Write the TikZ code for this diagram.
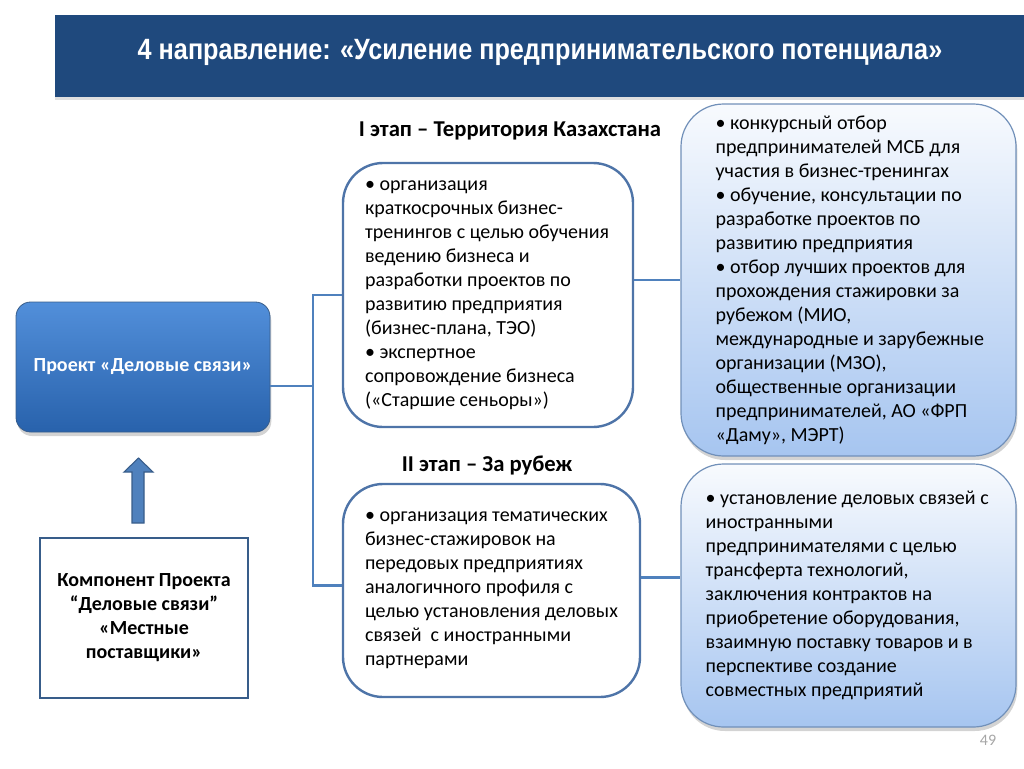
\documentclass[tikz,border=0pt]{standalone}
\usepackage{fontspec}
\setmainfont{Carlito}
\newfontfamily\headfont[FakeStretch=0.86]{Liberation Sans}
\usetikzlibrary{calc,shadows}
\definecolor{barblue}{RGB}{31,73,125}
\definecolor{linkblue}{RGB}{79,129,189}
\definecolor{rimblue}{RGB}{78,116,168}
\definecolor{paleblue}{RGB}{166,197,240}
\definecolor{darkrim}{RGB}{56,93,138}
\definecolor{projtop}{RGB}{82,143,218}
\definecolor{projbot}{RGB}{40,98,172}
\newcommand{\bodyfont}{\fontsize{15}{18}\selectfont}

\begin{document}
\begin{tikzpicture}[x=0.75pt,y=-0.75pt,
	stagebox/.style={draw=rimblue,line width=1.8pt,fill=white,rounded corners=30pt},
	infobox/.style={draw=rimblue!80,line width=0.9pt,rounded corners=32pt,
		top color=white!92!paleblue,bottom color=paleblue,
		drop shadow={opacity=0.35,shadow xshift=1pt,shadow yshift=-3pt}},
	txt/.style={anchor=west,inner sep=0pt,align=left,font=\bodyfont},
	stagelabel/.style={font=\fontsize{17}{20}\selectfont\bfseries},
	link/.style={draw=linkblue,line width=2.2pt}]
	\useasboundingbox (0,0) rectangle (1024,768);
	
	\node[fill=barblue,minimum width=726.75pt,minimum height=61.5pt,inner sep=0pt,
		drop shadow={opacity=0.25,shadow xshift=0pt,shadow yshift=-2pt}] (title) at (539.5,56) {};
	\node[text=white,font=\headfont\fontsize{22}{26}\selectfont\bfseries] (head) at (540,52)
		{4 направление: «Усиление предпринимательского потенциала»};
	
	\node[rounded corners=11pt,draw=darkrim,line width=0.6pt,top color=projtop,bottom color=projbot,
		drop shadow={opacity=0.35,shadow xshift=1pt,shadow yshift=-3pt},
		minimum width=190.5pt,minimum height=97.5pt,text=white,font=\bodyfont\bfseries] (proj) at (143,367)
		{Проект «Деловые связи»};
	\node[draw=darkrim,line width=1.5pt,fill=white,minimum width=156pt,minimum height=120pt,
		align=center,font=\bodyfont\bfseries] (comp) at (144,618)
		{Компонент Проекта\\“Деловые связи”\\«Местные\\поставщики»};
	% block arrow from comp up to proj
	\draw[draw=darkrim,fill=linkblue,line width=0.8pt,line join=miter]
		($(comp.north)+(-12,-14)$) -- ++(0,-51) -- ++(-8,0) -- ++(14.5,-14) -- ++(14.5,14)
		-- ++(-9,0) -- ++(0,51) -- cycle;
	
	\node[stagelabel] (lab1) at (510,131) {I этап – Территория Казахстана};
	\node[stagebox,minimum width=217.5pt,minimum height=198pt] (s1) at (488,295) {};
	\node[txt] (t1) at ([xshift=17.25pt]s1.west)
		{• организация\\краткосрочных бизнес-\\тренингов с целью обучения\\ведению бизнеса и\\разработки проектов по\\развитию предприятия\\(бизнес-плана, ТЭО)\\• экспертное\\сопровождение бизнеса\\(«Старшие сеньоры»)};
	
	\node[stagelabel] (lab2) at (487,465) {II этап – За рубеж};
	\node[stagebox,minimum width=222.75pt,minimum height=159.75pt] (s2) at (491.5,590.5) {};
	\node[txt] (t2) at ([xshift=17.25pt]s2.west)
		{• организация тематических\\бизнес-стажировок на\\передовых предприятиях\\аналогичного профиля с\\целью установления деловых\\связей~ с иностранными\\партнерами};
	
	\node[infobox,minimum width=251.25pt,minimum height=264pt] (s3) at (848.5,280) {};
	\node[txt] (t3) at ([xshift=26.25pt]s3.west)
		{• конкурсный отбор\\предпринимателей МСБ для\\участия в бизнес-тренингах\\• обучение, консультации по\\разработке проектов по\\развитию предприятия\\• отбор лучших проектов для\\прохождения стажировки за\\рубежом (МИО,\\международные и зарубежные\\организации (МЗО),\\общественные организации\\предпринимателей, АО «ФРП\\«Даму», МЭРТ)};
	
	\node[infobox,minimum width=251.25pt,minimum height=197.25pt] (s4) at (848.5,595.5) {};
	\node[txt] (t4) at ([xshift=18.75pt]s4.west)
		{• установление деловых связей с\\иностранными\\предпринимателями с целью\\трансферта технологий,\\заключения контрактов на\\приобретение оборудования,\\взаимную поставку товаров и в\\перспективе создание\\совместных предприятий};
	
	% connectors
	\coordinate (jn) at (313,386);
	\draw[link] ([yshift=-14.25pt]proj.east) -- (jn);
	\draw[link] (s1.west) -| (jn) |- ([yshift=4pt]s2.west);
	\draw[link] (s1.east |- s3.west) -- (s3.west);
	\draw[link] ([yshift=13.5pt]s2.east |- s4.west) -- ([yshift=13.5pt]s4.west);
	
	\node[text=gray!70,font=\fontsize{12}{14}\selectfont] (page) at (988,740) {49};
\end{tikzpicture}
\end{document}
